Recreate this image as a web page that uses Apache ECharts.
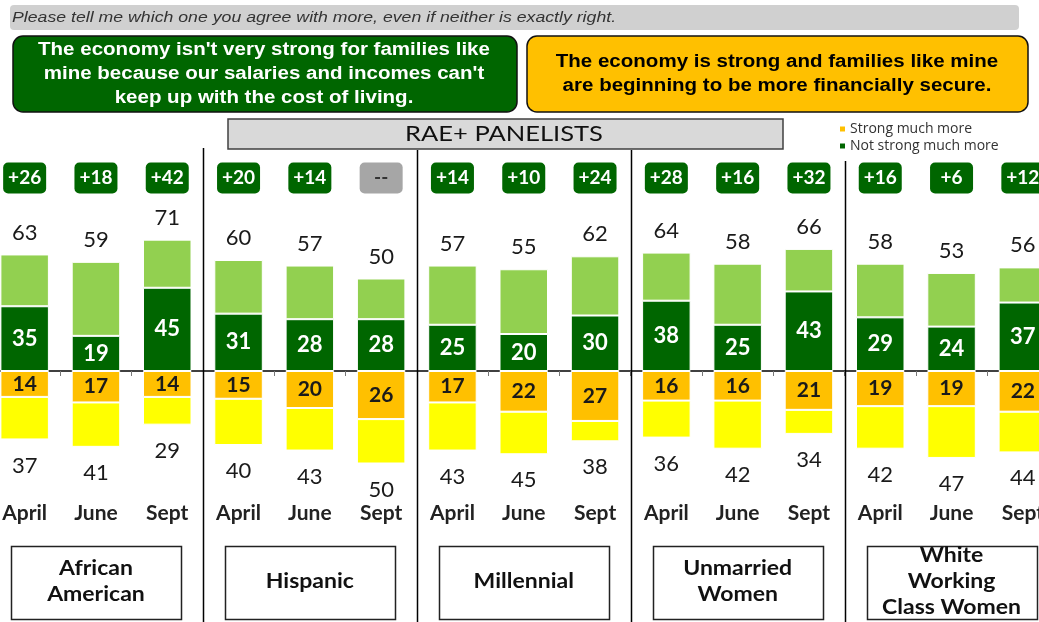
<!DOCTYPE html>
<html><head><meta charset="utf-8">
<script src="https://cdn.jsdelivr.net/npm/echarts@6/dist/echarts.min.js"></script>
<style>html,body{margin:0;padding:0;background:#fff}#c{width:1039px;height:622px}</style>
</head><body><div id="c"></div>
<script>
const groups = ['African\nAmerican', 'Hispanic', 'Millennial', 'Unmarried\nWomen', 'White\nWorking\nClass Women'];
const months = ['April', 'June', 'Sept'];
const notStrongTotal = [63, 59, 71, 60, 57, 50, 57, 55, 62, 64, 58, 66, 58, 53, 56];
const notStrongMuch  = [35, 19, 45, 31, 28, 28, 25, 20, 30, 38, 25, 43, 29, 24, 37];
const strongMuch     = [14, 17, 14, 15, 20, 26, 17, 22, 27, 16, 16, 21, 19, 19, 22];
const strongTotal    = [37, 41, 29, 40, 43, 50, 43, 45, 38, 36, 42, 34, 42, 47, 44];
const netLabels = ['+26', '+18', '+42', '+20', '+14', '--', '+14', '+10', '+24', '+28', '+16', '+32', '+16', '+6', '+12'];

const cats = [];
groups.forEach(g => months.forEach(m => cats.push(g.replace(/\n/g, ' ') + ' ' + m)));

const FONT = 'Lato, "Open Sans", sans-serif';
const ARIAL = '"Liberation Sans", Arial, sans-serif';
const DG = '#006600', LG = '#92d050', OR = '#ffc000', YE = '#ffff00';

const chart = echarts.init(document.getElementById('c'), null, {renderer: 'canvas'});

const option = {
  animation: false,
  backgroundColor: '#fff',
  grid: {left: -11, right: -19.5, top: 204.5, bottom: 121.5, containLabel: false, outerBoundsMode: 'none'},
  legend: {
    data: ['Strong much more', 'Not strong much more'],
    orient: 'vertical', left: 833, top: 117, itemWidth: 7, itemHeight: 7, itemGap: 3,
    icon: 'rect', selectedMode: false,
    textStyle: {fontFamily: '"Open Sans", sans-serif', fontSize: 14, color: '#333', padding: [0, 0, 0, -1]}
  },
  xAxis: [{
    type: 'category', data: cats, position: 'bottom',
    axisLine: {onZero: true, lineStyle: {color: '#000', width: 1.5}},
    axisTick: {show: true, length: 5, lineStyle: {color: '#777'}},
    axisLabel: {interval: 0, margin: 2, fontFamily: FONT, fontSize: 21, fontWeight: 'bold', color: '#222',
      formatter: (v, i) => months[i % 3]}
  }, {
    type: 'category', data: cats, position: 'top',
    axisLine: {show: false, onZero: false}, axisTick: {show: false},
    axisLabel: {interval: 0, margin: 11,
      formatter: (v, i) => netLabels[i] === '--' ? '{n|--}' : '{g|' + netLabels[i] + '}',
      rich: {
        g: {backgroundColor: DG, color: '#fff', borderRadius: 5, width: 43, height: 31, lineHeight: 31,
            align: 'center', fontSize: 19, fontWeight: 'bold', fontFamily: FONT},
        n: {backgroundColor: '#a6a6a6', color: '#333', borderRadius: 5, width: 43, height: 31, lineHeight: 31,
            align: 'center', fontSize: 19, fontWeight: 'bold', fontFamily: FONT}
      }}
  }],
  yAxis: {type: 'value', min: -70, max: 90, show: false, splitLine: {show: false}},
  series: [{
    name: 'Not strong much more', type: 'bar', stack: 'all', barWidth: 48.5,
    data: notStrongMuch,
    itemStyle: {color: DG, borderColor: '#fff', borderWidth: 1},
    label: {show: true, position: 'inside', color: '#fff', fontFamily: FONT, fontSize: 22, fontWeight: 'bold'}
  }, {
    name: 'Not strong rest', type: 'bar', stack: 'all', barWidth: 48.5,
    data: notStrongTotal.map((t, i) => t - notStrongMuch[i]),
    itemStyle: {color: LG, borderColor: '#fff', borderWidth: 1},
    label: {show: true, position: 'outside', distance: 11, color: '#1a1a1a', fontFamily: FONT, fontSize: 22,
      formatter: p => notStrongTotal[p.dataIndex]}
  }, {
    name: 'Strong much more', type: 'bar', stack: 'all', barWidth: 48.5,
    data: strongMuch.map(v => -v),
    itemStyle: {color: OR, borderColor: '#fff', borderWidth: 1},
    label: {show: true, position: 'inside', color: '#1a1a1a', fontFamily: FONT, fontSize: 21, fontWeight: 'bold',
      formatter: p => strongMuch[p.dataIndex]}
  }, {
    name: 'Strong rest', type: 'bar', stack: 'all', barWidth: 48.5,
    data: strongTotal.map((t, i) => -(t - strongMuch[i])),
    itemStyle: {color: YE, borderColor: '#fff', borderWidth: 1},
    label: {show: true, position: 'outside', distance: 15, color: '#1a1a1a', fontFamily: FONT, fontSize: 22,
      formatter: p => strongTotal[p.dataIndex]}
  }]
};
chart.setOption(option);

const px = i => chart.convertToPixel({xAxisIndex: 0}, cats[i]);
const g = [];
// top question banner
g.push({type: 'rect', shape: {x: 10, y: 5, width: 1009, height: 25, r: 4}, style: {fill: '#d0d0d0'}, z: 10});
g.push({type: 'text', x: 12, y: 18, scaleX: 1.18, style: {text: 'Please tell me which one you agree with more, even if neither is exactly right.',
  font: 'italic 15px ' + ARIAL, fill: '#333', verticalAlign: 'middle'}, z: 11});
// statement boxes
g.push({type: 'rect', shape: {x: 13, y: 36, width: 504, height: 76, r: 10}, style: {fill: DG, stroke: '#111', lineWidth: 1.5}, z: 10});
g.push({type: 'text', x: 264, y: 74, scaleX: 1.14, style: {text: "The economy isn't very strong for families like\nmine because our salaries and incomes can't\nkeep up with the cost of living.",
  font: 'bold 18px ' + ARIAL, fill: '#fff', align: 'center', verticalAlign: 'middle', lineHeight: 24}, z: 11});
g.push({type: 'rect', shape: {x: 527, y: 36, width: 501, height: 76, r: 10}, style: {fill: OR, stroke: '#111', lineWidth: 1.5}, z: 10});
g.push({type: 'text', x: 777, y: 74, scaleX: 1.14, style: {text: 'The economy is strong and families like mine\nare beginning to be more financially secure.',
  font: 'bold 18px ' + ARIAL, fill: '#000', align: 'center', verticalAlign: 'middle', lineHeight: 24}, z: 11});
// RAE+ panelists
g.push({type: 'rect', shape: {x: 228, y: 119, width: 555, height: 30}, style: {fill: '#d9d9d9', stroke: '#404040', lineWidth: 1.5}, z: 10});
g.push({type: 'text', x: 504, y: 134, scaleX: 1.16, style: {text: 'RAE+ PANELISTS', font: '22px ' + FONT, fill: '#111', align: 'center', verticalAlign: 'middle'}, z: 11});
// separators
const sepTops = [148, 150, 150, 161];
for (let k = 1; k < groups.length; k++) {
  const x = Math.round((px(3 * k - 1) + px(3 * k)) / 2) + 0.5;
  g.push({type: 'line', shape: {x1: x, y1: sepTops[k - 1], x2: x, y2: 622}, style: {stroke: '#000', lineWidth: 1.5}, z: 12});
}
// group boxes
groups.forEach((name, k) => {
  const cx = px(3 * k + 1);
  g.push({type: 'rect', shape: {x: Math.round(cx - 85) + 0.5, y: 546.5, width: 170, height: 73}, style: {fill: '#fff', stroke: '#222', lineWidth: 1.5}, z: 10});
  g.push({type: 'text', x: cx, y: 582, scaleX: 1.15, style: {text: name, font: 'bold 20px ' + FONT, fill: '#111', align: 'center', verticalAlign: 'middle', lineHeight: 26}, z: 11});
});
chart.setOption({graphic: g});
</script>
</body></html>
